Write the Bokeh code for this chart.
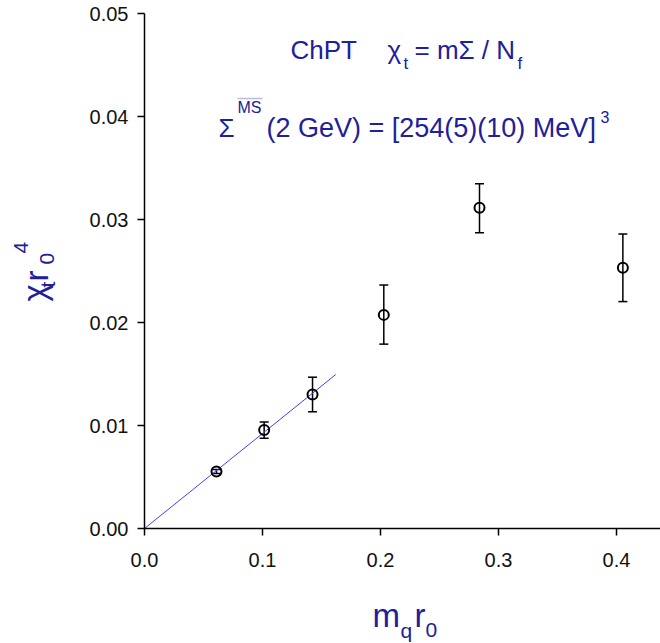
import math
from bokeh.plotting import figure
from bokeh.models import (ColumnDataSource, Whisker, TeeHead, Label, Range1d,
                          FixedTicker, PrintfTickFormatter, PolyAnnotation)
from bokeh.embed import file_html
from bokeh.resources import INLINE

# ---- data ----
mq_r0 = [0.061, 0.1014, 0.1424, 0.2028, 0.2839, 0.4054]
chi_r04 = [0.00554, 0.00957, 0.01301, 0.02074, 0.03114, 0.02531]
chi_lower = [0.00534, 0.00876, 0.01133, 0.01790, 0.02872, 0.02203]
chi_upper = [0.00574, 0.01034, 0.01469, 0.02364, 0.03346, 0.02860]
fit_x = [0.0, 0.1621]
fit_y = [0.0, 0.01495]
x_ticks = [0.0, 0.1, 0.2, 0.3, 0.4]
y_ticks = [0.0, 0.01, 0.02, 0.03, 0.04, 0.05]

NAVY = "#20209a"
FONT = "Liberation Sans"
W, H = 660, 643
X0_PX, Y0_PX = 144, 528      # pixel position of the origin
PX_PER_X, PX_PER_Y = 1180.0, 10300.0
K = 0.385                    # empirical baseline correction (fraction of font size)

x_end = (W - X0_PX) / PX_PER_X
p = figure(width=W, height=H, output_backend="svg", toolbar_location=None,
           x_range=Range1d(-X0_PX / PX_PER_X, x_end),
           y_range=Range1d(-(H - Y0_PX) / PX_PER_Y, Y0_PX / PX_PER_Y),
           min_border=0)
p.outline_line_color = None
p.grid.visible = False

for ax in (p.xaxis[0], p.yaxis[0]):
    ax.fixed_location = 0
    ax.axis_line_width = 1.5
    ax.axis_line_color = "black"
    ax.major_tick_line_color = "black"
    ax.major_tick_line_width = 1.5
    ax.major_tick_out = 7
    ax.major_tick_in = 0
    ax.minor_tick_line_color = None
    ax.major_label_text_font = FONT
    ax.major_label_text_font_size = "20px"
    ax.major_label_text_color = "#111111"

p.xaxis.bounds = (0, x_end)
p.yaxis.bounds = (0, 0.05)
p.xaxis.ticker = FixedTicker(ticks=x_ticks)
p.yaxis.ticker = FixedTicker(ticks=y_ticks)
p.xaxis.formatter = PrintfTickFormatter(format="%.1f")
p.yaxis.formatter = PrintfTickFormatter(format="%.2f")
p.xaxis.major_label_standoff = 17
p.yaxis.major_label_standoff = 9

# fit line
p.line(fit_x, fit_y, line_color="#4040ff", line_width=1)

src = ColumnDataSource(dict(x=mq_r0, y=chi_r04, lo=chi_lower, hi=chi_upper))
p.add_layout(Whisker(source=src, base="x", lower="lo", upper="hi",
                     line_color="black", line_width=1.5,
                     upper_head=TeeHead(size=9, line_color="black", line_width=1.5),
                     lower_head=TeeHead(size=9, line_color="black", line_width=1.5)))
p.scatter("x", "y", source=src, marker="circle", size=10, fill_color=None,
          line_color="black", line_width=2)


# ---- text annotations (pixel positions of the text baseline start) ----
def lab(px, py, text, size, rotated=False):
    if rotated:
        px = px - K * size
    else:
        py = py - K * size
    p.add_layout(Label(x=px, y=H - py, x_units="screen", y_units="screen",
                       text=text, text_font=FONT, text_font_size=f"{size}px",
                       text_color=NAVY, text_align="left",
                       text_baseline="alphabetic",
                       angle=math.pi / 2 if rotated else 0.0))


# line 1
lab(290, 60, "ChPT", 26)
lab(387, 60, "χ", 26)
lab(403, 70, "t", 17)
lab(414, 60, "= mΣ / N", 26)
lab(517, 70, "f", 17)

# line 2
lab(218, 138, "Σ", 26)
lab(237, 113, "MS", 16)
p.add_layout(PolyAnnotation(xs=[237, 262], ys=[H - 98, H - 98],
                            xs_units="screen", ys_units="screen",
                            line_color=NAVY, line_width=1.5, fill_alpha=0))
lab(266, 138, "(2 GeV) = [254(5)(10) MeV]", 27)
lab(600, 123, "3", 16)

# x axis label
lab(372, 628, "m", 33)
lab(400, 638, "q", 21)
lab(414, 628, "r", 33)
lab(425, 638, "0", 21)

# y axis label (rotated, reading upward)
lab(47, 301, "χ", 33, rotated=True)
lab(55, 287, "t", 21, rotated=True)
lab(49, 281, "r", 33, rotated=True)
lab(55, 264, "0", 21, rotated=True)
lab(29, 253, "4", 21, rotated=True)

open("out.html", "w").write(file_html(p, INLINE))
